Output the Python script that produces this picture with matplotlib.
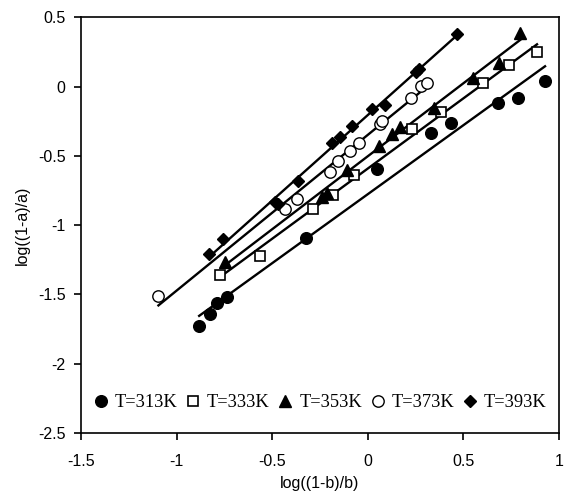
import numpy as np
import matplotlib
matplotlib.use("Agg")
import matplotlib.pyplot as plt
from matplotlib.lines import Line2D

# Data
x313 = [-0.882, -0.824, -0.789, -0.736, -0.322, 0.050, 0.329, 0.434, 0.679, 0.787, 0.927]
y313 = [-1.727, -1.638, -1.564, -1.516, -1.090, -0.594, -0.337, -0.260, -0.116, -0.085, 0.040]

x333 = [-0.771, -0.562, -0.288, -0.183, -0.073, 0.230, 0.383, 0.600, 0.740, 0.885]
y333 = [-1.359, -1.222, -0.883, -0.782, -0.638, -0.308, -0.185, 0.028, 0.156, 0.252]

x353 = [-0.745, -0.239, -0.212, -0.108, 0.058, 0.125, 0.168, 0.346, 0.548, 0.687, 0.797]
y353 = [-1.263, -0.794, -0.770, -0.602, -0.429, -0.345, -0.289, -0.153, 0.063, 0.168, 0.385]

x373 = [-1.095, -0.434, -0.370, -0.199, -0.158, -0.093, -0.047, 0.062, 0.072, 0.224, 0.280, 0.311]
y373 = [-1.511, -0.885, -0.813, -0.618, -0.536, -0.463, -0.409, -0.272, -0.248, -0.084, 0.004, 0.028]

x393 = [-0.829, -0.757, -0.483, -0.470, -0.366, -0.186, -0.146, -0.081, 0.024, 0.088, 0.250, 0.268, 0.465]
y393 = [-1.208, -1.102, -0.830, -0.850, -0.681, -0.405, -0.366, -0.284, -0.164, -0.133, 0.108, 0.125, 0.377]

labels = ["T=313K", "T=333K", "T=353K", "T=373K", "T=393K"]
xticks = [-1.5, -1, -0.5, 0, 0.5, 1]
yticks = [-2.5, -2, -1.5, -1, -0.5, 0, 0.5]

series = [(x313, y313), (x333, y333), (x353, y353), (x373, y373), (x393, y393)]
styles = [
    dict(marker="o", mfc="black", mec="black", ms=8.4),
    dict(marker="s", mfc="white", mec="black", ms=7.6, mew=1.2),
    dict(marker="^", mfc="black", mec="black", ms=9.2),
    dict(marker="o", mfc="white", mec="black", ms=8.2, mew=1.0),
    dict(marker="D", mfc="black", mec="black", ms=6.6),
]

fig = plt.figure(figsize=(5.66, 4.99), dpi=100)
ax = fig.add_axes([81/566, 1-433/499, (559-81)/566, (433-17.3)/499])

for (xs, ys), st in zip(series, styles):
    xs = np.array(xs); ys = np.array(ys)
    k, b = np.polyfit(xs, ys, 1)
    xl = np.array([xs.min(), xs.max()])
    ax.plot(xl, k*xl + b, color="black", lw=1.7, zorder=2)
    ax.plot(xs, ys, linestyle="none", zorder=3, **st)

ax.set_xlim(-1.5, 1)
ax.set_ylim(-2.5, 0.5)
ax.set_xticks(xticks)
ax.set_yticks(yticks)
ax.set_xticklabels([f"{t:g}" for t in xticks])
ax.set_yticklabels([f"{t:g}" for t in yticks])
for s in ax.spines.values():
    s.set_linewidth(1.2)
ax.tick_params(direction="out", length=5, width=1.2, labelsize=11.5)
ax.tick_params(axis="x", pad=10)
ax.tick_params(axis="y", pad=6)
for lab in ax.get_xticklabels() + ax.get_yticklabels():
    lab.set_fontfamily("Liberation Sans")
ax.set_xlabel("log((1-b)/b)", fontsize=11.5, fontfamily="Liberation Sans", labelpad=5)
ax.set_ylabel("log((1-a)/a)", fontsize=11.5, fontfamily="Liberation Sans", labelpad=6)

handles = [Line2D([], [], linestyle="none", **st) for st in styles]
ax.legend(handles, labels, loc="center", bbox_to_anchor=(0.5, 0.073),
          ncol=5, frameon=False, handlelength=0.8, handletextpad=0.35,
          columnspacing=0.45, borderpad=0, borderaxespad=0,
          prop=dict(family="Liberation Serif", size=13.2))

fig.savefig("out.png", dpi=100)
